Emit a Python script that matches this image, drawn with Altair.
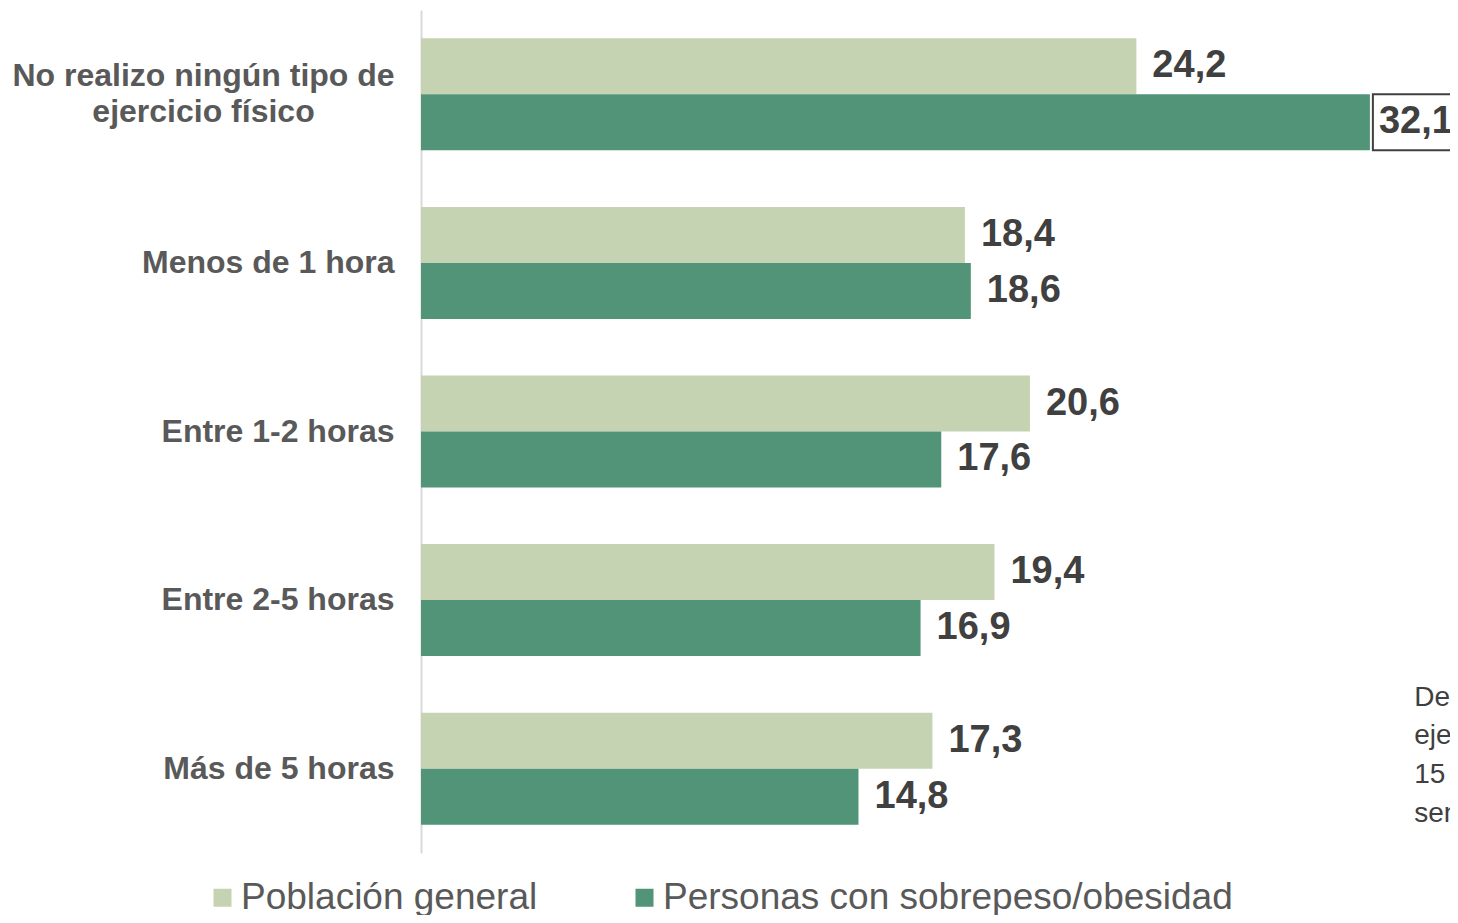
import altair as alt
import pandas as pd

categories = [
    "No realizo ningún tipo de|ejercicio físico",
    "Menos de 1 hora",
    "Entre 1-2 horas",
    "Entre 2-5 horas",
    "Más de 5 horas",
]
series = ["Población general", "Personas con sobrepeso/obesidad"]
values_general = [24.2, 18.4, 20.6, 19.4, 17.3]
values_sobrepeso = [32.1, 18.6, 17.6, 16.9, 14.8]
colors = ["#C5D3B3", "#519477"]

note_lines = ["De media, las personas que", "ejercicio físico dedican", "15 minutos más a la", "semana a estar sentadas"]
note_category = "Más de 5 horas"
note_x = 33.6

rows = []
for c, g, s in zip(categories, values_general, values_sobrepeso):
    rows.append({"category": c, "series": series[0], "value": g,
                 "label": f"{g:.1f}".replace(".", ",")})
    rows.append({"category": c, "series": series[1], "value": s,
                 "label": f"{s:.1f}".replace(".", ",")})
df = pd.DataFrame(rows)
max_val = max(values_general + values_sobrepeso)

FONT = "Liberation Sans"
Y_SCALE = alt.Scale(paddingInner=0.336, paddingOuter=0.168)
X_SCALE = alt.Scale(domain=[0, 34.81], nice=False, zero=True)

axis_common = dict(
    title=None, ticks=False, orient="left", labelFont=FONT, labelFontWeight="bold",
    labelFontSize=32, labelColor="#595959", labelLimit=0, labelLineHeight=36,
)

# main axis: single-line labels, right-aligned
main_axis = alt.Axis(
    domain=True, domainColor="#D9D9D9", domainWidth=2, labelPadding=27,
    labelExpr="indexof(datum.label, '|') >= 0 ? '' : datum.label",
    **axis_common,
)
# second axis: the two-line label, centered
wrap_axis = alt.Axis(
    domain=False, labelPadding=218, labelAlign="center", labelOffset=-18,
    labelExpr="indexof(datum.label, '|') >= 0 ? split(datum.label, '|') : ''",
    **axis_common,
)

yoff = alt.YOffset("series:N", sort=series, scale=alt.Scale(paddingInner=0, paddingOuter=0))
x_enc = alt.X("value:Q", scale=X_SCALE, axis=None)

base = alt.Chart(df)

bars = base.mark_bar().encode(
    y=alt.Y("category:N", sort=categories, scale=Y_SCALE, axis=main_axis),
    yOffset=yoff,
    x=x_enc,
    color=alt.Color(
        "series:N",
        sort=series,
        scale=alt.Scale(domain=series, range=colors),
        legend=alt.Legend(
            title=None,
            orient="none",
            direction="horizontal",
            legendX=-217,
            legendY=869,
            symbolType="square",
            symbolSize=324,
            symbolStrokeWidth=0,
            labelFont=FONT,
            labelFontSize=37,
            labelColor="#595959",
            labelOffset=0,
            labelLimit=0,
            columnPadding=88,
        ),
    ),
)

text_style = dict(align="left", baseline="middle", font=FONT, fontWeight="bold",
                  fontSize=38, color="#404040", clip=True)

labels = base.transform_filter(alt.datum.value != max_val).mark_text(
    dx=16, **text_style
).encode(
    y=alt.Y("category:N", sort=categories, scale=Y_SCALE, axis=wrap_axis),
    yOffset=yoff,
    x=x_enc,
    text="label:N",
)

max_label = base.transform_filter(alt.datum.value == max_val).mark_text(
    dx=9, **text_style
).encode(
    y=alt.Y("category:N", sort=categories, scale=Y_SCALE, axis=None),
    yOffset=yoff,
    x=x_enc,
    text="label:N",
)

box = base.transform_filter(alt.datum.value == max_val).mark_bar(
    fill="transparent", stroke="#404040", strokeWidth=2, xOffset=3, x2Offset=140, clip=True,
).encode(
    y=alt.Y("category:N", sort=categories, scale=Y_SCALE, axis=None),
    yOffset=yoff,
    x=x_enc,
    x2="value:Q",
)

note = alt.Chart(pd.DataFrame({"category": [note_category], "x": [note_x]})).mark_text(
    align="left", baseline="middle", font=FONT, fontSize=28, color="#404040",
    lineHeight=38.7, dy=-71, clip=True,
).encode(
    y=alt.Y("category:N", sort=categories, scale=Y_SCALE, axis=None),
    x=alt.X("x:Q", scale=X_SCALE, axis=None),
    text=alt.value(note_lines),
)

chart = alt.layer(bars, box, labels, max_label, note).resolve_axis(y="independent").properties(
    width=1029,
    height=843,
    autosize=alt.AutoSizeParams(type="none"),
    padding={"left": 413, "top": 2, "right": 0, "bottom": 62},
).configure_view(stroke=None)

chart.save("out.html", embed_options={"renderer": "svg", "actions": False})
